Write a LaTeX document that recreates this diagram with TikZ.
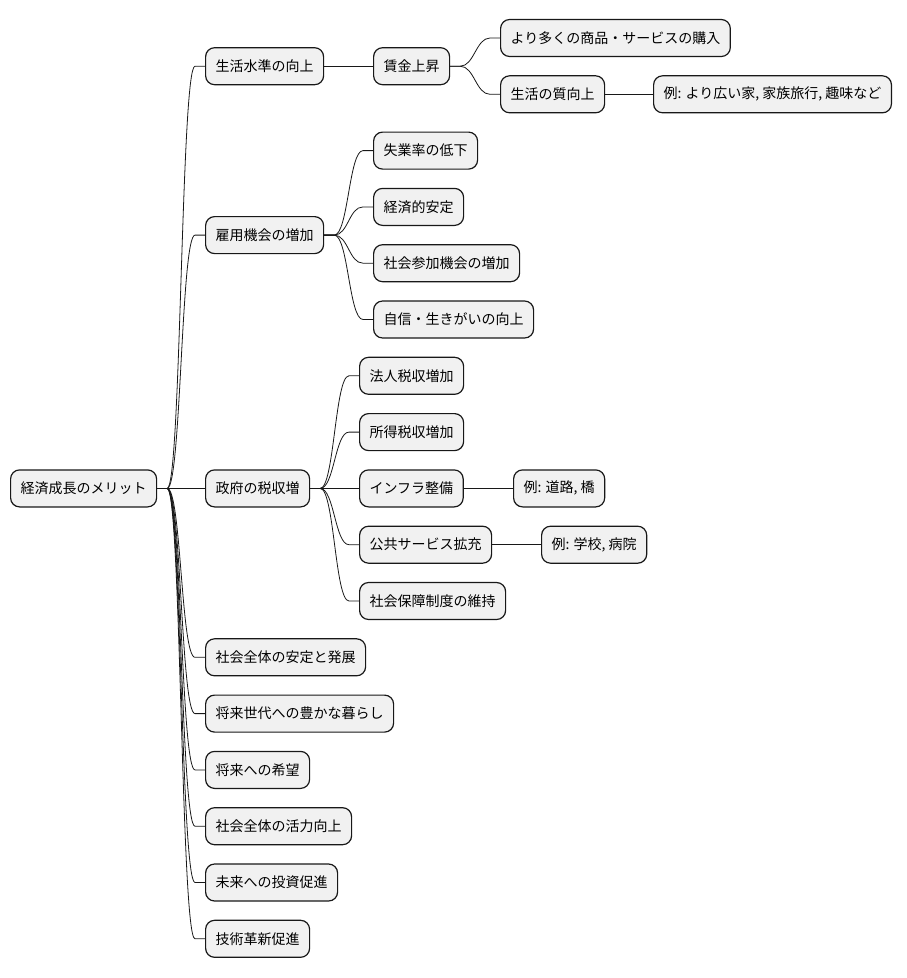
\documentclass[tikz,border=0pt]{standalone}
\usepackage{fontspec}
\newfontfamily\jpfont{Noto Sans CJK JP}
\definecolor{boxfill}{HTML}{F1F1F1}
\definecolor{boxline}{HTML}{181818}
% parent -> child branch
\newcommand{\branch}[2]{\draw[link] (#1.east) -- ++(10,0) .. controls +(14,0) and +(-14,0) .. ([xshift=-10pt]#2.west) -- (#2.west);}

\begin{document}
\begin{tikzpicture}[x=1pt, y=-1pt,
	topic/.style={draw=boxline, fill=boxfill, line width=1.2pt, rounded corners=9pt, anchor=west,
		minimum height=37pt, inner xsep=10pt, inner ysep=0pt, font=\jpfont\fontsize{14pt}{17pt}\selectfont},
	link/.style={draw=boxline, line width=0.8pt}]
	\useasboundingbox (0,0) rectangle (907,978);

	\node[topic] (root) at (10,488.4) {経済成長のメリット};

	% first level
	\node[topic] (living) at (205,66.2) {生活水準の向上};
	\node[topic] (jobs) at (205,235.1) {雇用機会の増加};
	\node[topic] (tax) at (205,488.4) {政府の税収増};
	\node[topic] (stability) at (205,657.3) {社会全体の安定と発展};
	\node[topic] (nextgen) at (205,713.6) {将来世代への豊かな暮らし};
	\node[topic] (hope) at (205,769.9) {将来への希望};
	\node[topic] (vitality) at (205,826.2) {社会全体の活力向上};
	\node[topic] (invest) at (205,882.5) {未来への投資促進};
	\node[topic] (innov) at (205,938.8) {技術革新促進};

	% living standard
	\node[topic] (wage) at (373,66.2) {賃金上昇};
	\node[topic] (goods) at (500,38) {より多くの商品・サービスの購入};
	\node[topic] (quality) at (500,94.3) {生活の質向上};
	\node[topic] (qualityex) at (653,94.3) {例: より広い家, 家族旅行, 趣味など};

	% employment
	\node[topic] (unemp) at (373,150.6) {失業率の低下};
	\node[topic] (econ) at (373,206.9) {経済的安定};
	\node[topic] (social) at (373,263.2) {社会参加機会の増加};
	\node[topic] (esteem) at (373,319.5) {自信・生きがいの向上};

	% tax revenue
	\node[topic] (corp) at (359,375.8) {法人税収増加};
	\node[topic] (income) at (359,432.1) {所得税収増加};
	\node[topic] (infra) at (359,488.4) {インフラ整備};
	\node[topic] (infraex) at (513,488.4) {例: 道路, 橋};
	\node[topic] (public) at (359,544.7) {公共サービス拡充};
	\node[topic] (publicex) at (541,544.7) {例: 学校, 病院};
	\node[topic] (welfare) at (359,601) {社会保障制度の維持};

	\foreach \kid in {living,jobs,tax,stability,nextgen,hope,vitality,invest,innov}
		\branch{root}{\kid};
	\branch{living}{wage}
	\branch{wage}{goods}
	\branch{wage}{quality}
	\branch{quality}{qualityex}
	\foreach \kid in {unemp,econ,social,esteem}
		\branch{jobs}{\kid};
	\foreach \kid in {corp,income,infra,public,welfare}
		\branch{tax}{\kid};
	\branch{infra}{infraex}
	\branch{public}{publicex}
\end{tikzpicture}
\end{document}
